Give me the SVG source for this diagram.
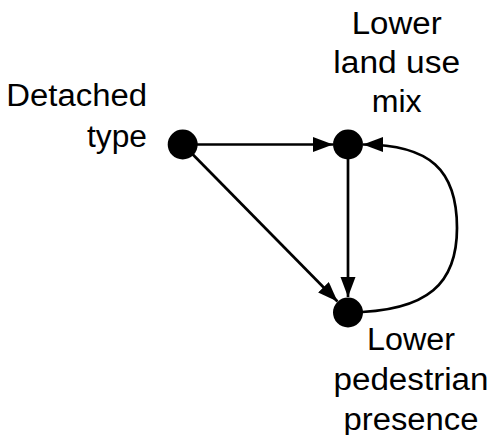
<svg xmlns="http://www.w3.org/2000/svg" width="491" height="435" viewBox="0 0 491 435">
<style>
.lbl{font-family:"Liberation Sans",Arial,sans-serif;font-size:31px;fill:#000}
.node{fill:#000}
.edge{stroke:#000;stroke-width:2.7;fill:none}
</style>
<defs>
<marker id="arr" markerUnits="userSpaceOnUse" markerWidth="21" markerHeight="16" refX="20" refY="7.5" orient="auto">
<path d="M0,0 L20,7.5 L0,15 z" fill="#000"/>
</marker>
</defs>
<rect width="491" height="435" fill="#fff"/>
<g id="connectors">
<line class="edge" x1="183" y1="144.5" x2="333" y2="144.5" marker-end="url(#arr)"/>
<line class="edge" x1="348" y1="144.5" x2="348" y2="297" marker-end="url(#arr)"/>
<line class="edge" x1="183" y1="144.5" x2="337.5" y2="301.5" marker-end="url(#arr)"/>
<path class="edge" d="M348,312.5 C430,312 457,282 457,228 C457,170 430,144.5 363,144.5" marker-end="url(#arr)"/>
</g>
<g id="detached">
<circle class="node" cx="182.7" cy="144.5" r="15"/>
<text class="lbl" x="147" y="106" text-anchor="end" textLength="140.7" lengthAdjust="spacingAndGlyphs">Detached</text>
<text class="lbl" x="147" y="146.5" text-anchor="end" textLength="60" lengthAdjust="spacingAndGlyphs">type</text>
</g>
<g id="landuse">
<circle class="node" cx="348" cy="144.5" r="15"/>
<text class="lbl" x="396.7" y="34.3" text-anchor="middle" textLength="90" lengthAdjust="spacingAndGlyphs">Lower</text>
<text class="lbl" x="396.7" y="73.3" text-anchor="middle" textLength="126.7" lengthAdjust="spacingAndGlyphs">land use</text>
<text class="lbl" x="396.7" y="112" text-anchor="middle" textLength="50" lengthAdjust="spacingAndGlyphs">mix</text>
</g>
<g id="pedestrian">
<circle class="node" cx="348" cy="312.5" r="15"/>
<text class="lbl" x="411" y="350" text-anchor="middle" textLength="88" lengthAdjust="spacingAndGlyphs">Lower</text>
<text class="lbl" x="411" y="390" text-anchor="middle" textLength="155" lengthAdjust="spacingAndGlyphs">pedestrian</text>
<text class="lbl" x="411" y="430" text-anchor="middle" textLength="135" lengthAdjust="spacingAndGlyphs">presence</text>
</g>
</svg>
